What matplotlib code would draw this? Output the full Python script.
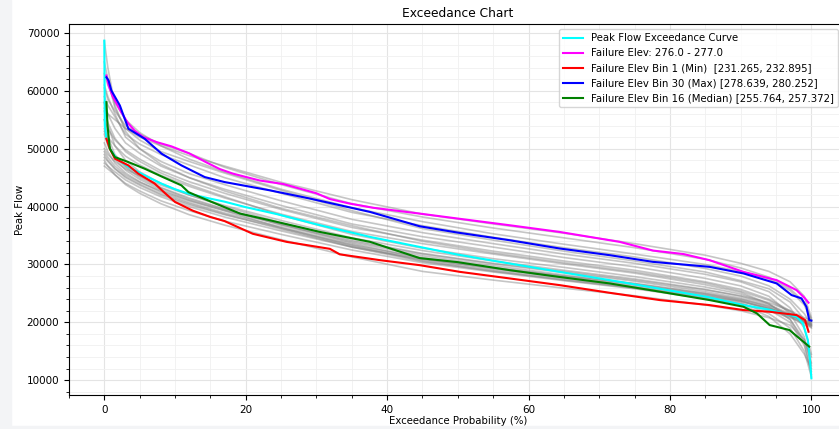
import numpy as np
import matplotlib.pyplot as plt
from matplotlib.patches import Rectangle

# Peak flow exceedance curve
cyan_x = [0, 0.07, 0.3, 0.8, 1.5, 2.4, 3.5, 4.8, 6.5, 8.1, 10, 12, 14.5, 17, 20, 24.4, 30.5, 37.6,
          44.6, 50, 57.3, 65, 72.9, 80, 85.2, 90.4, 94, 97.9, 98.8, 99.5, 99.8, 100]
cyan_y = [68670, 54000, 51800, 50000, 48700, 47700, 46800, 45970, 44900, 43960, 43000, 42200, 41500,
          40850, 39900, 38700, 36780, 34760, 33030, 31700, 30170, 28600, 27000, 25500, 24410, 22980,
          22200, 20970, 19830, 16950, 13500, 10340]

# Failure Elev 276-277
mag_x = [0.3, 0.6, 1.2, 2.4, 3.3, 4.3, 5.5, 7.4, 9.5, 12, 14.5, 16.3, 18.2, 22, 25.3, 30, 31.9, 34.7,
         38, 44.6, 50, 57.3, 64.4, 72.9, 77.6, 81.9, 85.6, 90.4, 95.1, 97.9, 99.1, 99.6]
mag_y = [62640, 61000, 59000, 56310, 54500, 53100, 52000, 51140, 50400, 49200, 47600, 46500, 45690,
         44500, 43900, 42300, 41300, 40520, 39800, 38790, 37930, 36780, 35620, 33900, 32400, 31800,
         30740, 28720, 27290, 25570, 24140, 23400]

# Bin 1 (min)
red_x = [0.3, 0.78, 1.5, 3.4, 4.8, 7.1, 8.6, 10, 12.5, 15, 17, 21, 25.8, 31.9, 33.3, 39, 44.6, 50.3,
         57.3, 64.4, 71.5, 78.6, 85.6, 90.4, 94.1, 97.9, 99.1, 99.6]
red_y = [51720, 50000, 48280, 47120, 45690, 44000, 42300, 40800, 39300, 38200, 37500, 35300, 33900,
         32700, 31750, 30740, 29880, 28720, 27590, 26430, 25100, 23840, 22980, 22120, 21830, 21260,
         20400, 18380]

# Bin 30 (max)
blue_x = [0.3, 0.6, 1.0, 2.2, 3.4, 5.7, 8.1, 10.9, 14.2, 17, 23.4, 29.1, 37.6, 44.6, 50, 57.3, 64.4,
          71.5, 77.6, 85.6, 90.4, 95.1, 97.2, 98.6, 99.3, 99.7, 100]
blue_y = [62340, 61800, 60050, 57460, 53450, 51720, 49140, 47120, 45100, 44240, 42810, 41380, 39070,
          36600, 35500, 34190, 32760, 31600, 30450, 29590, 28450, 26720, 24710, 24140, 22690, 20400,
          20300]

# Bin 16 (median)
green_x = [0.3, 0.45, 0.78, 1.5, 3.4, 5.7, 8.1, 10.9, 11.9, 13.5, 15.2, 17, 19.2, 23.4, 30.5, 37.6,
           44.6, 50, 57.3, 64, 71.5, 78.6, 85.6, 90.4, 92.3, 94.1, 96.9, 98.3, 99.7]
green_y = [58040, 54020, 50000, 48550, 47690, 46550, 45200, 43670, 42500, 41660, 40800, 39900, 38790,
           37640, 35620, 33900, 31100, 30400, 29020, 27900, 26720, 25290, 23850, 22690, 21550, 19530,
           18670, 17240, 15800]

# other failure elevation bins (gray)
gray_x = [0, 0.5, 1.5, 3, 5, 8, 12, 17, 25, 35, 45, 55, 65, 75, 85, 90, 94, 97, 99, 100]
gray_curves = [
    [57000, 56000, 55000, 53500, 52000, 50500, 48800, 47000, 44200, 41200, 38700, 37000, 35400, 33600, 31600, 30200, 28800, 27000, 24500, 20800],
    [60500, 58500, 56500, 54000, 52500, 50800, 49200, 46800, 43800, 40500, 38200, 36300, 34600, 32900, 30900, 29400, 27800, 25800, 23500, 20500],
    [63000, 61000, 58000, 55000, 52800, 50500, 48200, 46000, 43000, 39800, 37400, 35300, 33500, 31800, 30000, 28800, 27500, 25500, 23000, 20300],
    [59000, 57500, 55500, 52500, 50800, 49000, 47200, 45000, 42300, 39000, 36700, 34700, 32900, 31300, 29300, 28000, 26300, 24000, 21500, 19500],
    [65000, 62000, 57000, 53500, 51500, 49500, 47800, 45800, 42800, 39300, 36200, 34200, 32300, 30600, 28700, 27200, 25800, 23500, 20500, 19000],
    [61000, 59000, 56000, 52000, 50000, 47800, 45700, 43800, 41000, 37800, 35500, 33600, 31800, 30200, 28300, 27000, 25300, 22500, 19000, 14500],
    [58000, 56000, 53500, 51000, 49200, 47000, 45000, 43000, 40200, 37000, 34800, 33000, 31200, 29600, 27600, 26300, 24500, 21500, 17500, 12500],
    [55000, 53500, 51500, 49800, 48200, 46200, 44300, 42300, 39500, 36400, 34200, 32300, 30600, 29000, 27000, 25700, 24000, 22000, 20000, 19500],
    [53000, 52000, 50500, 48700, 47200, 45400, 43500, 41500, 38700, 35700, 33600, 31800, 30100, 28500, 26500, 25200, 23200, 20500, 16500, 11000],
    [68600, 64000, 57500, 53000, 50000, 47300, 45000, 42700, 39700, 36700, 34000, 32000, 30300, 28700, 26800, 25400, 23800, 21800, 20000, 19800],
    [56500, 54500, 51800, 49500, 47800, 45800, 43800, 41700, 38500, 35200, 32800, 31000, 29500, 27900, 26100, 24900, 23200, 21000, 19500, 19200],
    [50000, 49000, 47800, 46500, 45300, 43700, 42000, 40200, 37600, 34600, 32400, 30600, 29000, 27500, 25700, 24500, 23000, 21500, 20200, 19800],
    [49500, 48500, 47000, 45500, 44200, 42700, 41000, 39300, 36900, 34000, 31800, 30100, 28600, 27100, 25300, 24200, 22700, 20500, 17000, 13000],
    [52500, 50500, 48500, 46800, 45000, 43200, 41300, 39500, 37000, 33800, 31500, 29800, 28200, 26700, 25000, 23900, 22500, 21200, 20300, 20000],
    [48500, 47800, 46500, 45000, 43700, 42000, 40300, 38600, 36300, 33400, 31200, 29500, 28000, 26500, 24800, 23700, 22200, 20000, 16000, 11500],
    [55000, 52000, 49000, 47000, 45300, 43300, 41500, 39600, 36800, 33600, 31000, 29300, 27800, 26300, 24700, 23700, 22400, 21000, 20000, 19600],
    [47500, 47000, 46000, 44600, 43300, 41700, 40000, 38200, 35800, 33000, 30800, 29100, 27600, 26100, 24400, 23400, 21500, 19000, 15000, 10600],
    [51000, 49500, 47500, 45800, 44300, 42500, 40700, 38900, 36500, 33300, 30600, 28800, 27400, 26000, 24500, 23600, 22400, 21200, 20400, 20100],
    [53500, 51000, 48200, 46300, 44700, 42900, 41100, 39300, 36300, 33100, 30900, 29400, 28000, 26700, 25000, 24000, 22800, 21300, 20000, 19300],
    [49000, 48000, 46600, 45200, 43900, 42200, 40500, 38700, 36100, 33000, 30500, 28900, 27300, 25900, 24200, 23100, 21000, 18000, 14500, 12000],
    [58000, 54000, 50500, 48000, 46000, 44000, 42000, 40000, 37200, 34200, 31900, 30200, 28800, 27300, 25600, 24600, 23400, 22000, 20800, 20400],
    [47000, 46500, 45500, 44000, 42700, 41000, 39300, 37500, 35200, 32500, 30300, 28700, 27200, 25800, 24100, 23200, 22000, 20800, 19800, 19500],
    [48000, 47000, 45500, 43800, 42300, 40500, 38600, 36800, 34300, 31300, 28800, 27300, 25900, 24600, 23000, 22000, 20800, 19500, 17000, 14000],
]

fig = plt.figure(figsize=(8.39, 4.29), dpi=100)
fig.patches.append(Rectangle((0, 0), 11 / 839, 1, transform=fig.transFigure,
                             color='#f3f4f6', zorder=0))
fig.patches.append(Rectangle((0, 0), 1, 3 / 429, transform=fig.transFigure,
                             color='#f3f4f6', zorder=0))

ax = fig.add_axes([0.0822, 0.0793, 0.927, 0.8648])

for curve in gray_curves:
    ax.plot(gray_x, curve, color='gray', alpha=0.45, lw=1.2)

ax.plot(cyan_x, cyan_y, color='cyan', lw=1.5, label='Peak Flow Exceedance Curve')
ax.plot(mag_x, mag_y, color='magenta', lw=1.5, label='Failure Elev: 276.0 - 277.0')
ax.plot(red_x, red_y, color='red', lw=1.5, label='Failure Elev Bin 1 (Min)  [231.265, 232.895]')
ax.plot(blue_x, blue_y, color='blue', lw=1.5, label='Failure Elev Bin 30 (Max) [278.639, 280.252]')
ax.plot(green_x, green_y, color='green', lw=1.5, label='Failure Elev Bin 16 (Median) [255.764, 257.372]')

ax.set_xlim(-5, 105)
ax.set_ylim(7450, 71550)
ax.minorticks_on()
ax.grid(which='major', color='#e4e4e4', lw=0.8)
ax.grid(which='minor', color='#f0f0f0', lw=0.6)
ax.tick_params(labelsize=7.5)

ax.set_title('Exceedance Chart', fontsize=8.8, pad=5)
ax.set_xlabel('Exceedance Probability (%)', fontsize=7.3, labelpad=1)
ax.set_ylabel('Peak Flow', fontsize=7.3, labelpad=1)
ax.legend(loc='upper right', fontsize=7.3, bbox_to_anchor=(838 / 839, 1 - 29 / 429),
          bbox_transform=fig.transFigure, borderaxespad=0)

plt.savefig('out.png', dpi=100)
